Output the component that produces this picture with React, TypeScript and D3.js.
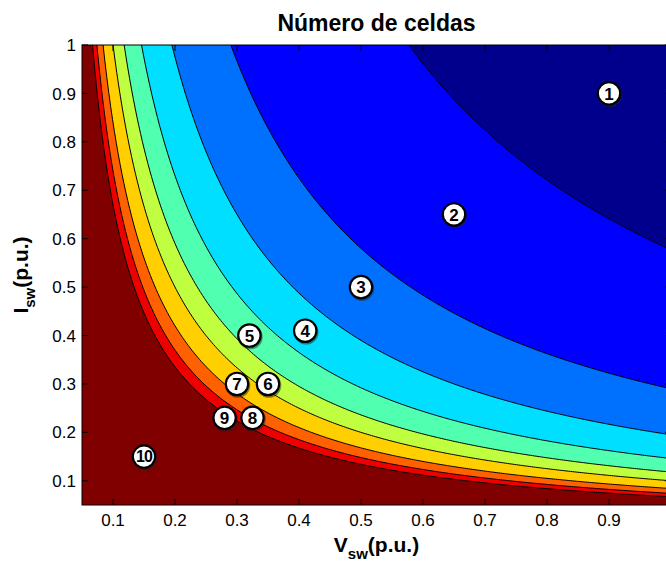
import React from 'react';
import * as d3 from 'd3';

// Region numbers (number of cells) and their fill colours (jet, 10 levels)
const regionNumbers = [1, 2, 3, 4, 5, 6, 7, 8, 9, 10];
const regionColors = ['#00008c', '#0000ff', '#0070ff', '#00dfff', '#50ffaf', '#bfff40', '#ffcf00', '#ff6000', '#ee0000', '#800000'];
// Contour boundaries: V·I product at the border between region k and k+1
const boundaryVI = [0.577, 0.29, 0.195, 0.146, 0.118, 0.1, 0.084, 0.074, 0.067];
// Label positions for each region number
const labelV = [0.9, 0.65, 0.5, 0.41, 0.32, 0.35, 0.3, 0.325, 0.28, 0.15];
const labelI = [0.9, 0.65, 0.5, 0.41, 0.4, 0.3, 0.3, 0.23, 0.23, 0.15];
// Axis ticks (the tick at V = 1 lies on the cropped right edge, its label is outside the picture)
const xTicks = [0.1, 0.2, 0.3, 0.4, 0.5, 0.6, 0.7, 0.8, 0.9, 1];
const xTickLabels = ['0.1', '0.2', '0.3', '0.4', '0.5', '0.6', '0.7', '0.8', '0.9', '1'];
const yTicks = [0.1, 0.2, 0.3, 0.4, 0.5, 0.6, 0.7, 0.8, 0.9, 1];
const yTickLabels = ['0.1', '0.2', '0.3', '0.4', '0.5', '0.6', '0.7', '0.8', '0.9', '1'];

const W = 666;
const H = 561;
const FONT = 'Liberation Sans, Arial, Helvetica, sans-serif';

export default function App() {
  const x = d3.scaleLinear().domain([0.05, 1]).range([82, 671]);
  const y = d3.scaleLinear().domain([0.05, 1]).range([505, 45]);
  const [x0, x1] = x.range();
  const [y0, y1] = [y(1), y(0.05)];

  const curvePts = (c: number) => {
    const n = 300;
    return d3.range(n + 1).map((i) => {
      const v = c + ((1 - c) * i) / n;
      return [v, c / v] as [number, number];
    });
  };

  const area = d3
    .area<[number, number]>()
    .x((d) => x(d[0]))
    .y0((d) => y(Math.max(0.05, d[1])))
    .y1(() => y(1));
  const line = d3
    .line<[number, number]>()
    .x((d) => x(d[0]))
    .y((d) => y(d[1]));

  const tick = 6;
  const plotCx = (x0 + x1) / 2;
  const plotCy = (y0 + y1) / 2;

  return (
    <div style={{ position: 'absolute', left: 0, top: 0, width: W, height: H, background: '#fff' }}>
      <svg width={W} height={H} style={{ display: 'block' }} fontFamily={FONT}>
        <defs>
          <clipPath id="plotClip">
            <rect x={x0} y={y0} width={x1 - x0} height={y1 - y0} />
          </clipPath>
        </defs>
        <g clipPath="url(#plotClip)">
          <rect x={x0} y={y0} width={x1 - x0} height={y1 - y0} fill={regionColors[9]} />
          {boundaryVI
            .map((c, j) => ({ c, j }))
            .reverse()
            .map(({ c, j }) => (
              <path key={'a' + j} d={area(curvePts(c)) || ''} fill={regionColors[j]} />
            ))}
          {boundaryVI.map((c, j) => (
            <path key={'l' + j} d={line(curvePts(c)) || ''} fill="none" stroke="#000" strokeWidth={1} />
          ))}
        </g>
        {/* axes box */}
        <rect x={x0} y={y0} width={x1 - x0} height={y1 - y0} fill="none" stroke="#000" strokeWidth={1} />
        {xTicks.map((t) => (
          <g key={'xt' + t}>
            <line x1={x(t)} x2={x(t)} y1={y1} y2={y1 - tick} stroke="#000" />
            <line x1={x(t)} x2={x(t)} y1={y0} y2={y0 + tick} stroke="#000" />
          </g>
        ))}
        {yTicks.map((t) => (
          <g key={'yt' + t}>
            <line x1={x0} x2={x0 + tick} y1={y(t)} y2={y(t)} stroke="#000" />
            <line x1={x1} x2={x1 - tick} y1={y(t)} y2={y(t)} stroke="#000" />
          </g>
        ))}
        {xTicks.map((t, i) =>
          x(t) + 8 < W ? (
            <text key={'xl' + t} x={x(t)} y={526} textAnchor="middle" fontSize={17} fill="#000">
              {xTickLabels[i]}
            </text>
          ) : null
        )}
        {yTicks.map((t, i) => (
          <text key={'yl' + t} x={76} y={y(t)} dy="0.36em" textAnchor="end" fontSize={17} fill="#000">
            {yTickLabels[i]}
          </text>
        ))}
        {/* region labels */}
        {regionNumbers.map((n, i) => {
          const cx = x(labelV[i]);
          const cy = y(labelI[i]);
          return (
            <g key={'lab' + n}>
              <circle cx={cx + 1} cy={cy + 1.5} r={12.3} fill="#222" opacity={0.5} />
              <circle cx={cx} cy={cy} r={11.2} fill="#fff" stroke="#000" strokeWidth={2.2} />
              <text x={cx} y={cy} dy="0.36em" textAnchor="middle" fontSize={n === 10 ? 16 : 17} fontWeight="bold" fill="#000" letterSpacing={n === 10 ? -0.8 : 0}>
                {n}
              </text>
            </g>
          );
        })}
        {/* title */}
        <text x={plotCx} y={31} textAnchor="middle" fontSize={23} fontWeight="bold" fill="#000">
          Número de celdas
        </text>
        {/* x label */}
        <text x={plotCx} y={552} textAnchor="middle" fontSize={21} fontWeight="bold" fill="#000">
          V
          <tspan fontSize={15} dy={7}>sw</tspan>
          <tspan dy={-7}>(p.u.)</tspan>
        </text>
        {/* y label */}
        <text
          transform={`translate(28,${plotCy}) rotate(-90)`}
          textAnchor="middle"
          fontSize={21}
          fontWeight="bold"
          fill="#000"
        >
          I
          <tspan fontSize={15} dy={7}>sw</tspan>
          <tspan dy={-7}>(p.u.)</tspan>
        </text>
      </svg>
    </div>
  );
}
